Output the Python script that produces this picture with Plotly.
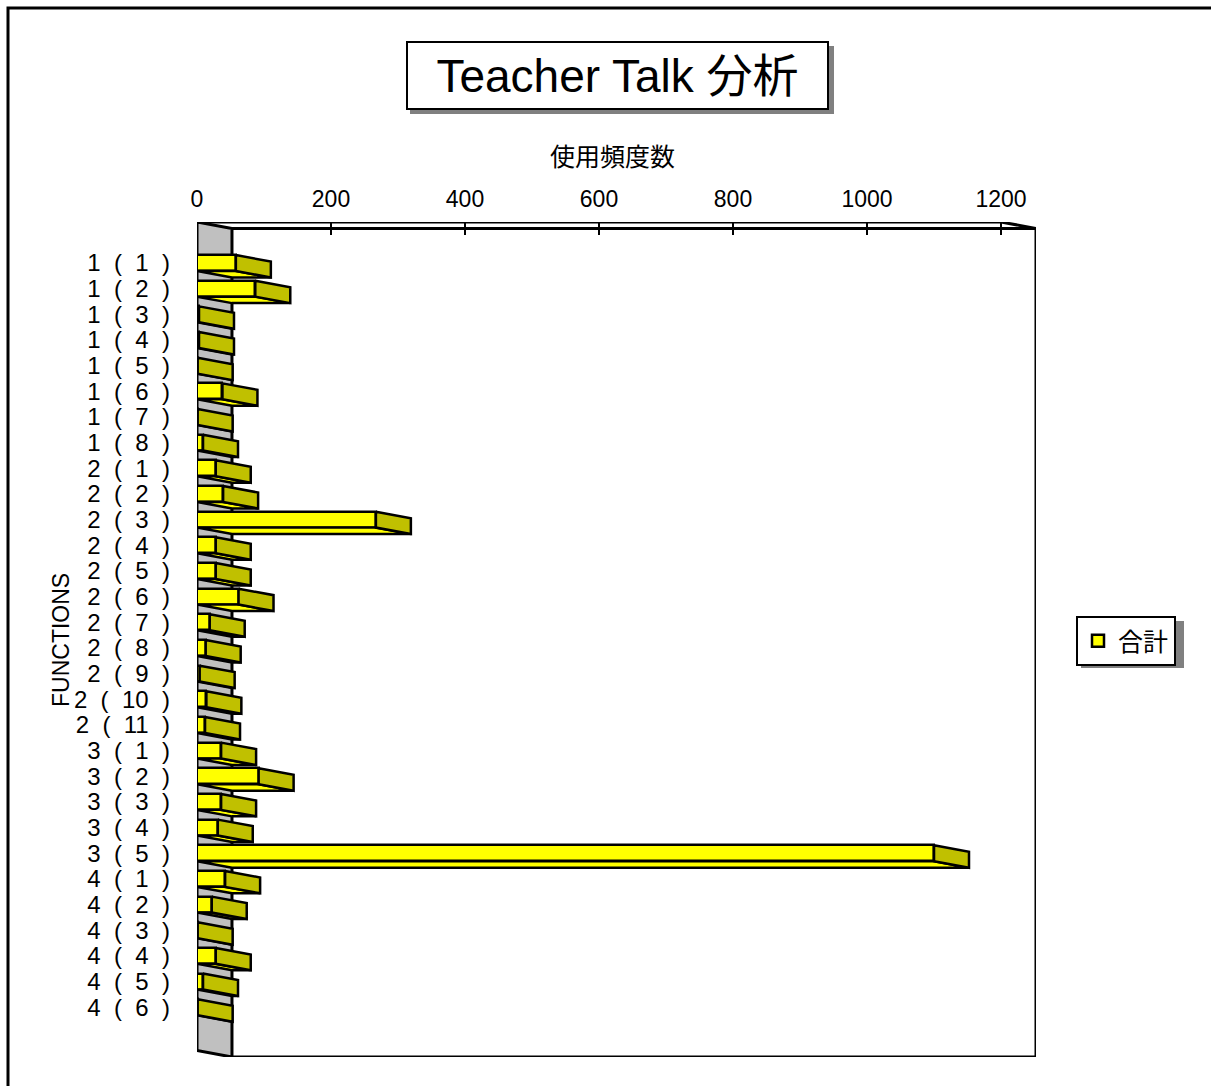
import plotly.graph_objects as go

# ---------------- data ----------------
S = "\u2007"  # figure space used for the wide label spacing
categories = [
    f"1{S}({S}1{S})", f"1{S}({S}2{S})", f"1{S}({S}3{S})", f"1{S}({S}4{S})",
    f"1{S}({S}5{S})", f"1{S}({S}6{S})", f"1{S}({S}7{S})", f"1{S}({S}8{S})",
    f"2{S}({S}1{S})", f"2{S}({S}2{S})", f"2{S}({S}3{S})", f"2{S}({S}4{S})",
    f"2{S}({S}5{S})", f"2{S}({S}6{S})", f"2{S}({S}7{S})", f"2{S}({S}8{S})",
    f"2{S}({S}9{S})", f"2{S}({S}10{S})", f"2{S}({S}11{S})",
    f"3{S}({S}1{S})", f"3{S}({S}2{S})", f"3{S}({S}3{S})", f"3{S}({S}4{S})",
    f"3{S}({S}5{S})",
    f"4{S}({S}1{S})", f"4{S}({S}2{S})", f"4{S}({S}3{S})", f"4{S}({S}4{S})",
    f"4{S}({S}5{S})", f"4{S}({S}6{S})",
]
values = [58, 87, 3, 3, 1, 38, 1, 9,
          28, 39, 267, 28, 28, 62, 19, 13, 4, 14, 12,
          36, 92, 36, 31, 1100,
          42, 22, 1, 28, 9, 1]
x_ticks = [0, 200, 400, 600, 800, 1000, 1200]
series_name = "合計"
title_text = "Teacher Talk 分析"
x_title = "使用頻度数"
y_title = "FUNCTIONS"

# ---------------- style / geometry ----------------
FONT = "Liberation Sans, Arial, Noto Sans CJK JP, sans-serif"
YELLOW = "#FFFF00"
OLIVE = "#C0C000"
GRAY = "#C0C0C0"
LW = 2.5
D = 52.2      # depth of the 3D effect in value units
DY = 0.253    # vertical depth shift in category units
HH = 0.31     # half bar thickness
n = len(categories)
idx = list(range(n))
Y_TOP = -1.598
Y_BOT = n + 0.94
X_MAX = 1252.2

W, H = 1211, 1086
ML, MR, MT, MB = 197, 175, 222, 29
PW, PH = W - ML - MR, H - MT - MB


def px(x):
    return (x - ML) / PW


def py(y):
    return 1 - (y - MT) / PH


side_x, side_y, bot_x, bot_y = [], [], [], []
for i, v in zip(idx, values):
    side_x += [v, v + D, v + D, v, v, None]
    side_y += [i - HH, i - HH + DY, i + HH + DY, i + HH, i - HH, None]
    bot_x += [0, v, v + D, D, 0, None]
    bot_y += [i + HH, i + HH, i + HH + DY, i + HH + DY, i + HH, None]

fig = go.Figure()

# front faces
fig.add_trace(go.Bar(
    x=values, y=idx, orientation="h", width=2 * HH, name=series_name,
    marker=dict(color=YELLOW, line=dict(color="black", width=LW)),
    showlegend=True, hoverinfo="skip",
))
# bottom faces
fig.add_trace(go.Scatter(
    x=bot_x, y=bot_y, mode="lines", fill="toself", fillcolor=YELLOW,
    line=dict(color="black", width=LW), showlegend=False, hoverinfo="skip",
))
# side faces
fig.add_trace(go.Scatter(
    x=side_x, y=side_y, mode="lines", fill="toself", fillcolor=OLIVE,
    line=dict(color="black", width=LW), showlegend=False, hoverinfo="skip",
))

shapes = []
# gray wall at value 0
shapes.append(dict(
    type="path", xref="x", yref="y", layer="below",
    path=f"M 0,{Y_TOP} L {D},{Y_TOP + DY} L {D},{Y_BOT} L 0,{Y_BOT - DY} Z",
    fillcolor=GRAY, line=dict(color="black", width=3),
))
# frame lines
line = dict(color="black", width=3)
shapes += [
    dict(type="path", xref="x", yref="y", layer="above",
         path=f"M 0,{Y_TOP} L {x_ticks[-1]},{Y_TOP} L {X_MAX},{Y_TOP + DY}", line=line),
    dict(type="line", xref="x", yref="y", x0=D, y0=Y_TOP + DY, x1=X_MAX, y1=Y_TOP + DY, line=line),
    dict(type="line", xref="x", yref="y", x0=X_MAX, y0=Y_TOP + DY, x1=X_MAX, y1=Y_BOT, line=line),
    dict(type="line", xref="x", yref="y", x0=D, y0=Y_BOT, x1=X_MAX, y1=Y_BOT, line=line),
]
# title shadow
shapes.append(dict(type="rect", xref="paper", yref="paper", layer="below",
                   x0=px(410), x1=px(834), y0=py(114), y1=py(46),
                   fillcolor="#808080", line=dict(width=0)))
# legend shadow
shapes.append(dict(type="rect", xref="paper", yref="paper", layer="below",
                   x0=px(1081), x1=px(1184), y0=py(668), y1=py(621),
                   fillcolor="#808080", line=dict(width=0)))
# outer chart border
shapes.append(dict(type="rect", xref="paper", yref="paper", layer="below",
                   x0=px(8), x1=px(1230), y0=py(1110), y1=py(8),
                   fillcolor="rgba(0,0,0,0)", line=dict(color="black", width=3)))

annotations = [
    dict(text=title_text, xref="paper", yref="paper", x=px(617), y=py(75),
         xanchor="center", yanchor="middle", showarrow=False,
         font=dict(family=FONT, size=46, color="black"),
         bgcolor="white", bordercolor="black", borderwidth=2, borderpad=4,
         width=411, height=57),
    dict(text=x_title, xref="paper", yref="paper", x=px(612), y=py(157),
         xanchor="center", yanchor="middle", showarrow=False,
         font=dict(family=FONT, size=25, color="black")),
    dict(text=y_title, xref="paper", yref="paper", x=px(61), y=py(640),
         xanchor="center", yanchor="middle", showarrow=False, textangle=-90,
         font=dict(family=FONT, size=23, color="black")),
]

fig.update_layout(
    width=W, height=H,
    margin=dict(l=ML, r=MR, t=MT, b=MB, pad=0),
    paper_bgcolor="white", plot_bgcolor="rgba(0,0,0,0)",
    bargap=0,
    shapes=shapes, annotations=annotations,
    showlegend=True,
    legend=dict(x=px(1076), y=py(616), xanchor="left", yanchor="top",
                bgcolor="white", bordercolor="black", borderwidth=2,
                font=dict(family=FONT, size=25, color="black"),
                itemwidth=30, tracegroupgap=0),
    xaxis=dict(side="top", range=[0, X_MAX], tickvals=x_ticks,
               ticktext=[str(t) for t in x_ticks],
               ticks="inside", ticklen=13, tickwidth=2, tickcolor="black",
               showline=False, showgrid=False, zeroline=False,
               ticklabelstandoff=9,
               tickfont=dict(family=FONT, size=23, color="black")),
    yaxis=dict(range=[Y_BOT, Y_TOP], tickvals=idx, ticktext=categories,
               ticks="", showline=False, showgrid=False, zeroline=False,
               ticklabelstandoff=26,
               tickfont=dict(family=FONT, size=24, color="black")),
)

fig.write_html("out.html", config={"displayModeBar": False},
               post_script="document.body.style.margin='0';document.body.style.overflow='hidden';")
